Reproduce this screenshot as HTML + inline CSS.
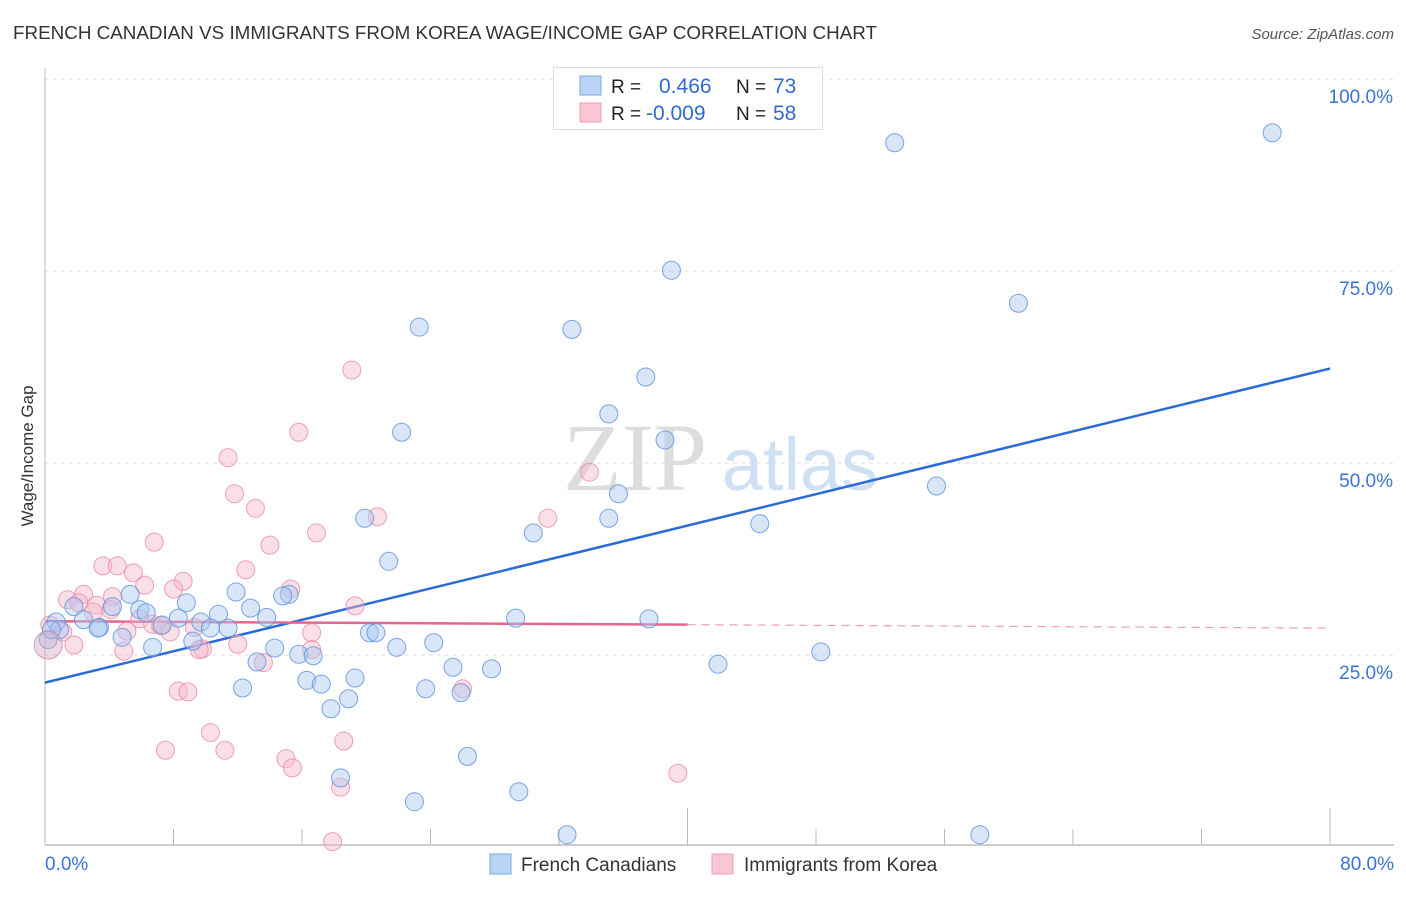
<!DOCTYPE html>
<html><head><meta charset="utf-8"><style>
body{margin:0;background:#fff;font-family:"Liberation Sans",sans-serif}
</style></head><body>
<svg id="chart" width="1406" height="892" xmlns="http://www.w3.org/2000/svg" font-family="Liberation Sans, sans-serif">
<text x="13" y="39" font-size="18.5" fill="#333" textLength="864" lengthAdjust="spacingAndGlyphs">FRENCH CANADIAN VS IMMIGRANTS FROM KOREA WAGE/INCOME GAP CORRELATION CHART</text>
<text x="1394" y="39" font-size="15" fill="#555" text-anchor="end" font-style="italic">Source: ZipAtlas.com</text>
<text transform="translate(33,456) rotate(-90)" font-size="17" fill="#333" text-anchor="middle">Wage/Income Gap</text>
<g><text x="635" y="490" font-size="96" fill="#ddd" text-anchor="middle" font-family="Liberation Serif, serif">ZIP</text><text x="800" y="490" font-size="74" fill="#cfe0f5" text-anchor="middle">atlas</text></g>
<g id="grid"></g><g id="axes"></g><g id="lines"></g><g id="pts"></g>
<g>
<rect x="553.5" y="67.5" width="269" height="62" fill="#fff" stroke="#ddd"/>
<rect x="580" y="76" width="21" height="19" fill="#b8d4f5" stroke="#7aa8e6"/>
<rect x="580" y="103" width="21" height="19" fill="#f9c6d4" stroke="#ee9ab3"/>
<text x="611" y="93" font-size="19" fill="#222">R =</text><text x="659" y="93" font-size="21" fill="#2f6bd0">0.466</text>
<text x="736" y="93" font-size="19" fill="#222">N =</text><text x="773" y="93" font-size="21" fill="#2f6bd0">73</text>
<text x="611" y="120" font-size="19" fill="#222">R =</text><text x="646" y="120" font-size="21" fill="#2f6bd0">-0.009</text>
<text x="736" y="120" font-size="19" fill="#222">N =</text><text x="773" y="120" font-size="21" fill="#2f6bd0">58</text>
</g>
<g>
<rect x="490" y="854" width="21" height="20" fill="#b8d4f5" stroke="#7aa8e6"/>
<text x="521" y="871" font-size="19" fill="#333">French Canadians</text>
<rect x="712" y="854" width="21" height="20" fill="#f9c6d4" stroke="#ee9ab3"/>
<text x="744" y="871" font-size="19" fill="#333">Immigrants from Korea</text>
</g>
</svg>
<script>
const blueX=[76.4,52.9,39.0,60.6,23.3,32.8,37.4,22.2,35.1,38.6,55.5,35.7,19.9,35.1,30.4,44.5,21.4,11.9,15.2,14.8,5.3,8.8,1.8,4.2,5.9,6.3,12.8,10.8,8.3,13.8,2.4,0.7,3.4,9.7,7.3,11.4,10.3,29.3,37.6,20.2,20.6,3.3,0.9,4.8,9.2,6.7,14.3,21.9,24.2,15.8,16.7,48.3,41.9,13.2,25.4,27.8,16.3,19.3,17.2,12.3,23.7,25.9,18.9,17.8,26.3,18.4,29.5,23.0,32.5,58.2,0.2,0.4];
const blueY=[93.0,91.7,75.1,70.8,67.7,67.4,61.2,54.0,56.4,53.0,47.0,46.0,42.8,42.8,40.9,42.1,37.2,33.2,32.9,32.7,32.9,31.8,31.3,31.3,30.9,30.5,31.1,30.3,29.8,29.9,29.6,29.3,28.6,29.3,28.9,28.5,28.5,29.8,29.7,27.9,27.9,28.5,28.3,27.3,26.8,26.0,25.9,26.0,26.6,25.1,24.9,25.4,23.8,24.1,23.4,23.2,21.7,22.0,21.2,20.7,20.6,20.1,19.3,18.0,11.8,9.0,7.2,5.9,1.6,1.6,27.0,28.3];
const pinkX=[19.1,15.8,11.4,11.8,13.1,20.7,33.9,31.3,16.9,6.8,14.0,3.6,4.5,5.5,12.5,6.2,8.6,8.0,15.3,2.4,1.4,2.1,4.2,19.3,3.2,3.0,4.1,5.9,6.7,7.2,7.8,9.3,5.1,1.1,16.6,1.8,12.0,9.8,9.6,4.9,16.6,13.6,8.3,8.9,26.0,10.3,7.5,11.2,15.0,15.4,18.6,18.4,39.4,17.9,0.3];
const pinkY=[62.1,54.0,50.7,46.0,44.1,43.0,48.8,42.8,40.9,39.7,39.3,36.6,36.6,35.7,36.1,34.1,34.6,33.6,33.6,32.9,32.2,31.8,32.6,31.4,31.5,30.6,30.9,29.7,29.0,28.8,28.0,28.6,28.1,28.0,27.9,26.3,26.4,25.8,25.7,25.5,25.7,24.0,20.3,20.2,20.6,14.9,12.6,12.6,11.5,10.3,13.8,7.8,9.6,0.7,28.9];
const bigPoint=[0.2,26.3];
const blueTrend=[21.4,62.3];
const pinkTrend=[29.4,28.5];
const pinkSolidEnd=40;
const yTicks=[25,50,75,100];
const xTickVals=[0,8,16,24,32,40,48,56,64,72,80];
const NS="http://www.w3.org/2000/svg";
const X=v=>45+v/80*1285, Y=v=>847-v/100*768;
function el(tag,attrs,parent){const e=document.createElementNS(NS,tag);for(const k in attrs)e.setAttribute(k,attrs[k]);document.getElementById(parent).appendChild(e);return e;}
yTicks.forEach(t=>{
 const l=el('line',{x1:45,x2:1394,y1:Y(t),y2:Y(t),stroke:'#ddd','stroke-dasharray':'4,4'},'grid');
 
 
 const tx=el('text',{x:1393,y:Y(t)+24,'font-size':19,fill:'#3a74d0','text-anchor':'end'},'grid');
 tx.textContent=t.toFixed(1)+'%';
 
 
});
const ax=el('line',{x1:45,x2:1394,y1:845,y2:845,stroke:'#bbb','stroke-width':1.5},'axes');


const ay=el('line',{x1:45,x2:45,y1:68,y2:845,stroke:'#bbb'},'axes');


xTickVals.forEach((t,i)=>{
 const long=(t===40||t===80);
 const tk=el('line',{x1:X(t),x2:X(t),y1:long?808:829,y2:845,stroke:'#bbb'},'axes');
 
 
});
[[0,'0.0%','start',45],[80,'80.0%','end',1394]].forEach(a=>{
 const tx=el('text',{x:a[3],y:870,'font-size':19,fill:'#3a74d0','text-anchor':a[2]},'axes');
 tx.textContent=a[1];
 
 
});
function dot(x,y,r,fill,stroke,name){
 const c=el('circle',{cx:X(x),cy:Y(y),r:r,fill:fill,'fill-opacity':0.45,stroke:stroke,'stroke-opacity':0.8,'stroke-width':1},'pts');
 
 
}
pinkX.forEach((x,i)=>dot(x,pinkY[i],9,'#f7b8ca','#ea8aa8','korea-point'));
blueX.forEach((x,i)=>dot(x,blueY[i],9,'#a9c8f0','#5b90dc','french-canadian-point'));
dot(bigPoint[0],bigPoint[1],14,'#d8a8c8','#c08ab8','large-point');
const bl=el('line',{x1:X(0),y1:Y(blueTrend[0]),x2:X(80),y2:Y(blueTrend[1]),stroke:'#2a6bd6','stroke-width':2.5},'lines');


const pk=v=>pinkTrend[0]+(pinkTrend[1]-pinkTrend[0])*v/80;
const ps=el('line',{x1:X(0),y1:Y(pk(0)),x2:X(pinkSolidEnd),y2:Y(pk(pinkSolidEnd)),stroke:'#e8658e','stroke-width':2.5},'lines');


const pd=el('line',{x1:X(pinkSolidEnd),y1:Y(pk(pinkSolidEnd)),x2:X(80),y2:Y(pk(80)),stroke:'#e8a0b8','stroke-width':1.2,'stroke-dasharray':'8,6'},'lines');


</script>
</body></html>
